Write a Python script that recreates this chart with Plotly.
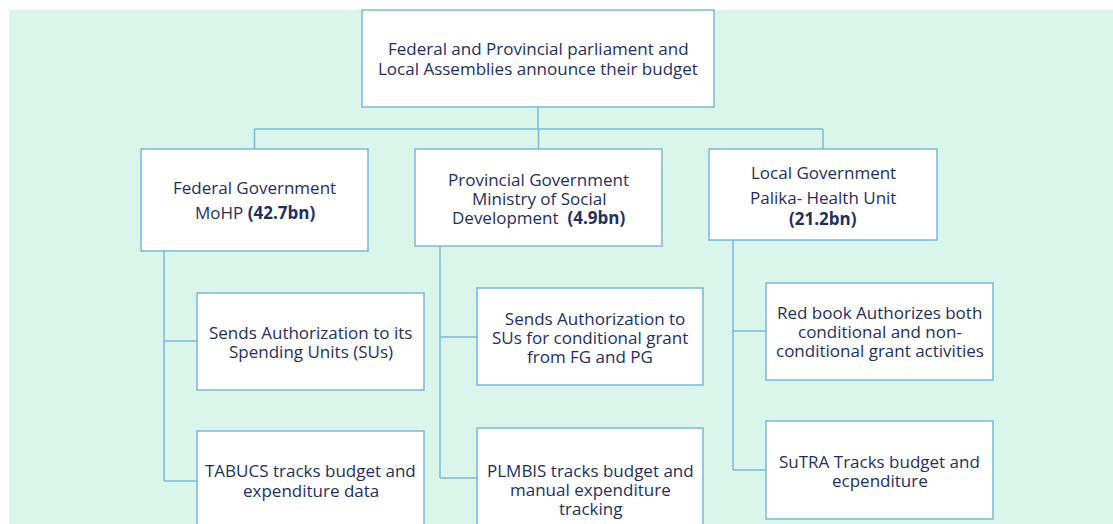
import plotly.graph_objects as go

# ---- content ----
node_ids = ["top", "fed", "prov", "local", "fed1", "fed2", "prov1", "prov2", "loc1", "loc2"]
node_texts = [
    "Federal and Provincial parliament and<br>Local Assemblies announce their budget",
    "Federal Government<br>MoHP <b>(42.7bn)</b>",
    "Provincial Government<br>Ministry of Social<br>Development  <b>(4.9bn)</b>",
    "Local Government<br>Palika- Health Unit<br><b>(21.2bn)</b>",
    "Sends Authorization to its<br>Spending Units (SUs)",
    "TABUCS tracks budget and<br>expenditure data",
    "  Sends Authorization to<br>SUs for conditional grant<br>from FG and PG",
    "PLMBIS tracks budget and<br>manual expenditure<br>tracking",
    "Red book Authorizes both<br>conditional and non-<br>conditional grant activities",
    "SuTRA Tracks budget and<br>ecpenditure",
]
children = {"fed": ["fed1", "fed2"], "prov": ["prov1", "prov2"], "local": ["loc1", "loc2"]}

# ---- layout geometry (pixels) ----
W, H = 1113, 524
boxes = {  # x0, y0, x1, y1
    "top": (362, 10, 714, 107),
    "fed": (141, 149, 368, 251),
    "prov": (415, 149, 662, 246),
    "local": (709, 149, 937, 240),
    "fed1": (197, 293, 424, 390),
    "fed2": (197, 431, 424, 535),
    "prov1": (477, 288, 703, 385),
    "prov2": (477, 428, 703, 535),
    "loc1": (766, 283, 993, 380),
    "loc2": (766, 421, 993, 519),
}
line_ys = {
    "top": [48, 68], "fed": [187, 212], "prov": [179, 198, 217], "local": [172, 197, 218],
    "fed1": [332, 351], "fed2": [470, 490], "prov1": [318, 337, 356],
    "prov2": [470, 489, 508], "loc1": [312, 331, 350], "loc2": [461, 480],
}
spine_x = {"fed": 164, "prov": 440, "local": 733}
stub_y = {"fed1": 341, "fed2": 481, "prov1": 337, "prov2": 478, "loc1": 331, "loc2": 470}
bus_y = 129

BG = "#daf5ea"
BORDER = "#7ab8dd"
TEXT = "#1f2f62"
LW = 1.5
FS = 17

shapes = []
shapes.append(dict(type="rect", x0=9, y0=10, x1=W + 5, y1=H + 5, fillcolor=BG,
                   line=dict(width=0), layer="below"))


def line(x0, y0, x1, y1):
    shapes.append(dict(type="line", x0=x0, y0=y0, x1=x1, y1=y1,
                       line=dict(color=BORDER, width=LW)))


tb = boxes["top"]
top_cx = (tb[0] + tb[2]) / 2
line(top_cx, tb[3], top_cx, bus_y)
cxs = []
for p in ["fed", "prov", "local"]:
    b = boxes[p]
    cx = (b[0] + b[2]) / 2
    cxs.append(cx)
    line(cx, bus_y, cx, b[1])
line(min(cxs), bus_y, max(cxs), bus_y)

for p, kids in children.items():
    b = boxes[p]
    sx = spine_x[p]
    last = max(stub_y[k] for k in kids)
    line(sx, b[3], sx, last)
    for k in kids:
        line(sx, stub_y[k], boxes[k][0], stub_y[k])

annotations = []
for nid, txt in zip(node_ids, node_texts):
    x0, y0, x1, y1 = boxes[nid]
    shapes.append(dict(type="rect", x0=x0, y0=y0, x1=x1, y1=y1, fillcolor="white",
                       line=dict(color=BORDER, width=LW)))
    for ln, ly in zip(txt.split("<br>"), line_ys[nid]):
        annotations.append(dict(x=(x0 + x1) / 2, y=ly, text=ln.replace("  ", "&nbsp; "),
                                showarrow=False, xanchor="center", yanchor="middle",
                                align="center",
                                font=dict(family="Open Sans", size=FS, color=TEXT)))

fig = go.Figure()
fig.update_layout(
    width=W, height=H,
    margin=dict(l=0, r=0, t=0, b=0),
    paper_bgcolor="white", plot_bgcolor="white",
    xaxis=dict(range=[0, W], visible=False, fixedrange=True),
    yaxis=dict(range=[H, 0], visible=False, fixedrange=True),
    shapes=shapes, annotations=annotations, showlegend=False,
)
fig.write_html("out.html", config={"displayModeBar": False},
               post_script="document.body.style.margin='0';document.body.style.overflow='hidden';")
